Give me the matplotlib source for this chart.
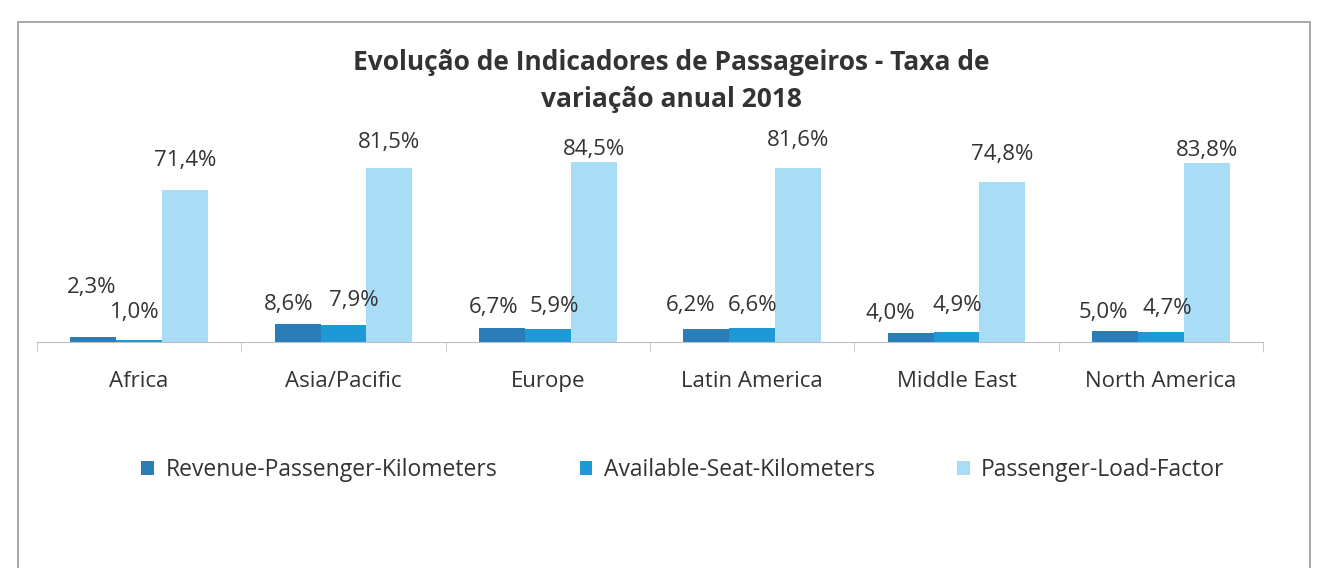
# bar chart of passenger indicators, 2018
import matplotlib.pyplot as plt
import numpy as np
from matplotlib.patches import Rectangle

plt.rcParams['font.family'] = ['Open Sans', 'DejaVu Sans']

# data
regions = ["Africa", "Asia/Pacific", "Europe", "Latin America", "Middle East", "North America"]
rpk = [2.3, 8.6, 6.7, 6.2, 4.0, 5.0]
ask = [1.0, 7.9, 5.9, 6.6, 4.9, 4.7]
plf = [71.4, 81.5, 84.5, 81.6, 74.8, 83.8]
series_names = ["Revenue-Passenger-Kilometers", "Available-Seat-Kilometers", "Passenger-Load-Factor"]

colors = ["#2a7db6", "#1f98d6", "#a9dcf5"]
# label offsets from bar top (pixels), per series
lift = [[50, 19, 20, 23, 20, 19], [27, 25, 23, 22, 26, 23], [29, 26, 12, 27, 28, 13]]
shift = [[-2, -9, -8, -16, -20, -11], [-4, 10, 7, 0, 1, 6], [0, 0, 0, 0, 0, 0]]

fig = plt.figure(figsize=(13.18, 5.68), dpi=100)
ax = fig.add_axes([37 / 1318, 1 - 342 / 568, 1226 / 1318, 192 / 568])

x = np.arange(len(regions))
w = 0.225
for i, (vals, name) in enumerate(zip([rpk, ask, plf], series_names)):
    pos = x + (i - 1) * w
    ax.bar(pos, vals, w, color=colors[i], label=name)
    for p, v, dy, dx in zip(pos, vals, lift[i], shift[i]):
        ax.annotate(f"{v:.1f}%".replace(".", ","), (p, v), xytext=(dx, dy),
                    textcoords="offset pixels", ha="center", va="center",
                    fontsize=16, color="#333333")

ax.set_xlim(-0.5, len(regions) - 0.5)
ax.set_ylim(0, 90)
ax.set_yticks([])
ax.set_xticks(x)
ax.set_xticklabels(regions, fontsize=16, color="#333333")
ax.set_xticks(np.arange(-0.5, len(regions)), minor=True)
ax.tick_params(axis="x", which="major", length=0, pad=21)
ax.tick_params(axis="x", which="minor", length=7, color="#bfbfbf")
for s in ["left", "right", "top"]:
    ax.spines[s].set_visible(False)
ax.spines["bottom"].set_color("#bfbfbf")

fig.text(671 / 1318, 1 - 81 / 568, "Evolução de Indicadores de Passageiros - Taxa de\nvariação anual 2018",
         ha="center", va="center", fontsize=19, fontweight="bold", color="#333333", linespacing=1.5)

fig.legend(loc="center", bbox_to_anchor=(683 / 1318, 1 - 470 / 568), ncol=3, frameon=False,
           fontsize=16.5, handlelength=0.55, handleheight=0.55, handletextpad=0.5, columnspacing=3.6,
           labelcolor="#333333")

# outer frame of the chart area
fig.patches.append(Rectangle((18 / 1318, -0.1), 1292 / 1318, 1.1 - 22 / 568, transform=fig.transFigure,
                             fill=False, edgecolor="#9a9a9a", linewidth=1.2))

fig.savefig("out.png", dpi=100)
plt.close()
